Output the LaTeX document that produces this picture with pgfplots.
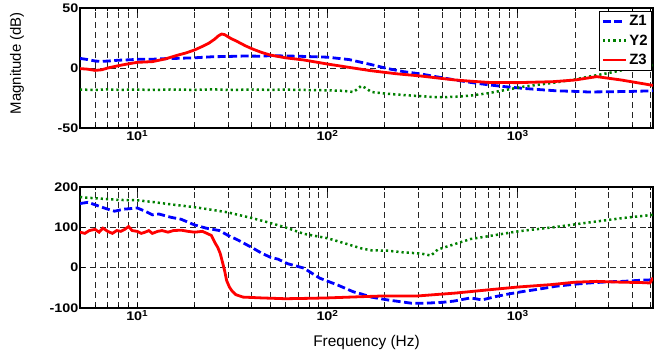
\documentclass[border=0pt]{standalone}
\usepackage{fontspec}
\setmainfont{Liberation Sans}
\newfontfamily\tickfont[FakeStretch=1.15]{Liberation Sans}
\usepackage{pgfplots}
\pgfplotsset{compat=1.18}
\definecolor{mblue}{RGB}{0,0,255}
\definecolor{mgreen}{RGB}{0,128,0}
\definecolor{mred}{RGB}{255,0,0}

\tikzset{
  s1/.style={mblue, line width=2.8bp, dash pattern=on 8bp off 3.5bp},
  s2/.style={mgreen, line width=2.5bp, dash pattern=on 2.2bp off 3bp},
  s3/.style={mred, line width=2.8bp},
  gridsty/.style={black!85, line width=0.7bp, dash pattern=on 6bp off 4bp},
}

\begin{document}
\begin{tikzpicture}
% ---------- Magnitude ----------
\begin{axis}[at={(80bp,226bp)}, anchor=south west,
  scale only axis, width=573bp, height=120bp,
  xmode=log, xmin=5, xmax=5140,
  xtick={10,100,1000},
  xticklabels={10\textsuperscript{1},10\textsuperscript{2},10\textsuperscript{3}},
  minor xtick={6,7,8,9,20,30,40,50,60,70,80,90,200,300,400,500,600,700,800,900,2000,3000,4000,5000},
  tick align=inside, tick pos=both,
  xticklabel pos=lower, yticklabel pos=left,
  major tick length=5bp, minor tick length=3bp,
  grid=both,
  major grid style={gridsty}, minor grid style={gridsty},
  axis line style={line width=1.3bp},
  every tick/.style={black, line width=0.8bp},
  ticklabel style={font=\tickfont\bfseries\fontsize{12.5}{12.5}\selectfont},
  yticklabel style={inner sep=1.5bp},
  xticklabel style={inner sep=2bp},
  ymin=-50, ymax=50, ytick={-50,0,50}, yticklabels={-50,0,50},
  ylabel={Magnitude (dB)},
  ylabel style={at={(rel axis cs:0,0.54)}, anchor=center, yshift=63bp,
    font=\fontsize{15}{15}\selectfont},
  legend style={at={(rel axis cs:1,1)}, anchor=north east, xshift=-1bp, yshift=-3bp,
    font=\bfseries\fontsize{15}{15}\selectfont, draw=black, line width=0.8bp,
    inner sep=2bp, row sep=3.5bp, cells={anchor=west}},
  legend image post style={xscale=1.35},
]
\addplot[s1] table {
5 8
5.5 7
6 5.8
6.5 5.5
7 5.8
8 6.5
9 6.8
10 7.2
12 7.3
14 7.8
16 8
20 8.5
25 9.4
30 9.6
37 10
45 9.8
50 10.3
60 10
70 9.8
80 9.5
100 9
130 7
168 3
207 -0.5
250 -3
310 -5
380 -7.5
470 -10
565 -12
700 -14
850 -15.5
1070 -17
1300 -18
1590 -19
2000 -19.5
2360 -20
3000 -19.8
4000 -19.5
5140 -19
};
\addlegendentry{Z1}
\addplot[s2] table {
5 -18
6 -18.3
7 -17.8
8 -18.2
10 -18
12 -18.3
15 -17.9
20 -18.2
25 -17.8
30 -18.3
40 -18
50 -18.2
60 -18
80 -18.4
100 -18.6
120 -19
137 -20
145 -17
150 -15
158 -16.5
170 -20
207 -21.5
250 -22.5
310 -23.5
380 -24.4
470 -24
565 -23
700 -21
850 -18.5
1070 -15.6
1300 -13.8
1590 -12
2000 -9.5
2360 -7.2
3000 -4.2
3560 -1.7
4300 0.5
5140 2.5
};
\addlegendentry{Y2}
\addplot[s3] table {
5 -0.5
5.5 -1
6 -2
6.5 -1.5
7 0
8 2
9 3.5
10 4.7
12 5.3
14 7.5
16.4 10.8
18 12.5
20 15
22 18
23.7 20.5
25.5 24
26.8 27
27.8 28.3
28.8 27.8
30 26
31 24.7
33.6 22
37 18.5
40.7 15.6
45 13
50 10.8
60 8.5
75 6.7
100 3.3
130 0.5
168 -2.2
230 -4.8
310 -6.7
392 -8.6
470 -10
565 -11
700 -12
1000 -12.2
1530 -11.4
2000 -10
2600 -7.2
3500 -10
5140 -14.5
};
\addlegendentry{Z3}
\end{axis}

% ---------- Phase ----------
\begin{axis}[at={(80bp,46bp)}, anchor=south west,
  scale only axis, width=573bp, height=121bp,
  xmode=log, xmin=5, xmax=5140,
  xtick={10,100,1000},
  xticklabels={10\textsuperscript{1},10\textsuperscript{2},10\textsuperscript{3}},
  minor xtick={6,7,8,9,20,30,40,50,60,70,80,90,200,300,400,500,600,700,800,900,2000,3000,4000,5000},
  tick align=inside, tick pos=both,
  xticklabel pos=lower, yticklabel pos=left,
  major tick length=5bp, minor tick length=3bp,
  grid=both,
  major grid style={gridsty}, minor grid style={gridsty},
  axis line style={line width=1.3bp},
  every tick/.style={black, line width=0.8bp},
  ticklabel style={font=\tickfont\bfseries\fontsize{12.5}{12.5}\selectfont},
  yticklabel style={inner sep=1.5bp},
  xticklabel style={inner sep=2bp},
  ymin=-100, ymax=200, ytick={-100,0,100,200}, yticklabels={-100,0,100,200},
  xlabel={Frequency (Hz)},
  xlabel style={at={(rel axis cs:0.5,0)}, anchor=base, yshift=-38bp,
    font=\fontsize{15.5}{15.5}\selectfont},
]
\addplot[s1] table {
5 159
5.5 162
6 156
6.5 150
7 145
7.6 140
8.5 145
9 146
10 148
11 140
12 131
13 133
15 125
17 120
20 106
23 98
27 92
30 80
34 68
40.7 48
45 36
50 26
55 21
61.6 10
75 -1
91 -26
113 -43
137 -60
150 -65
170 -73
207 -80
275 -88
330 -88
400 -86
460 -83
565 -75
650 -80
760 -72
900 -65
1070 -59
1300 -53
1590 -46
2000 -41
2360 -38
3000 -35
3560 -34
4500 -31
5140 -30
};
\addplot[s2] table {
5 175
6 172
7 170
8 168
10 167
12 163
15 157
20 150
25 143
30 137
40 123
49 112
60 100
75 84
100 73
120 62
150 48
170 43
207 42
250 38
310 35
350 30
380 45
470 59
565 71
700 78
1000 90
1590 101
2360 112
3560 123
5140 131
};
\addplot[s3] table {
5 88
5.3 85
5.6 92
6 95
6.3 88
6.6 98
7 90
7.4 85
7.8 92
8.2 90
8.6 95
9 102
9.4 92
10 90
10.5 85
11 88
11.5 92
12 85
12.8 90
13.5 92
14.5 88
15.5 92
17 93
18.5 90
20 88
22 90
23 86
24.5 80
25.6 62
26.5 50
27.3 35
28 15
28.8 -8
29.5 -32
30.5 -48
31.5 -58
33 -67
36 -73
45 -75
60 -77
80 -76
100 -75
150 -72
200 -70
300 -70
470 -63
700 -55
1000 -48
1500 -42
2000 -36
2600 -34
3500 -36
4500 -37
4950 -38
5140 -25
};
\end{axis}
\pgfresetboundingbox
\path[use as bounding box] (0bp,0bp) rectangle (659bp,354bp);
\end{tikzpicture}
\end{document}
